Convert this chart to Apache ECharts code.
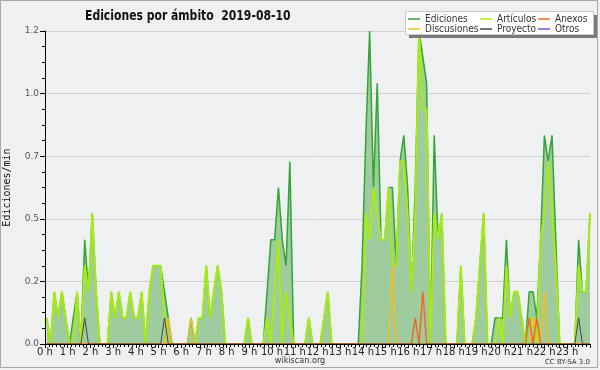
<!DOCTYPE html>
<html><head><meta charset="utf-8">
<script src="https://cdn.jsdelivr.net/npm/echarts@6/dist/echarts.min.js"></script>
<style>html,body{margin:0;padding:0;background:#f0f0f0}#c{width:600px;height:370px}</style>
</head><body><div id="c"></div>
<script>
// 10-minute slots, 6 per hour, 24 hours
const hourLabels = ['0 h','1 h','2 h','3 h','4 h','5 h','6 h','7 h','8 h','9 h','10 h','11 h',
  '12 h','13 h','14 h','15 h','16 h','17 h','18 h','19 h','20 h','21 h','22 h','23 h'];
const yTicks = [0, 0.24, 0.48, 0.72, 0.96, 1.2];

const ediciones = [
  0.1,0,0.2,0.1,0.2,0.1,   0,0.1,0.2,0,0.4,0.2,   0.5,0.2,0,0,0,0.2,   0.1,0.2,0.1,0.1,0.2,0.1,
  0.1,0.2,0,0.2,0.3,0.3,   0.3,0.2,0.1,0,0,0,     0,0,0.1,0,0.1,0.1,   0.3,0.1,0.2,0.3,0.2,0,
  0,0,0,0,0,0.1,           0,0,0,0,0.2,0.4,       0.4,0.6,0.4,0.3,0.7,0, 0,0,0,0.1,0,0,
  0,0.1,0.2,0,0,0,         0,0,0,0,0,0.3,         0.8,1.2,0.6,1.0,0.4,0.4, 0.6,0.6,0.3,0.7,0.8,0.6,
  0.2,0.6,1.2,1.1,1.0,0,   0.8,0.4,0.5,0,0,0,     0,0.3,0,0,0,0.1,     0.3,0.5,0,0,0.1,0.1,
  0.1,0.4,0.1,0.2,0.2,0.1, 0,0.2,0.2,0.1,0.4,0.8, 0.7,0.8,0.4,0,0,0,   0,0,0.4,0.2,0.2,0.5
];
const articulos = [
  0.1,0,0.2,0.1,0.2,0.1,   0,0,0.2,0,0.3,0.2,     0.5,0.2,0,0,0,0.2,   0.1,0.2,0.1,0.1,0.2,0.1,
  0.1,0.2,0,0.2,0.3,0.3,   0.3,0.1,0,0,0,0,       0,0,0,0,0.1,0.1,     0.3,0.1,0.2,0.3,0.2,0,
  0,0,0,0,0,0.1,           0,0,0,0,0.1,0,         0.2,0.4,0,0.2,0.1,0, 0,0,0,0.1,0,0,
  0,0.1,0.2,0,0,0,         0,0,0,0,0,0,           0.5,0.4,0.6,0.5,0.4,0.4, 0.6,0.3,0.3,0.7,0.7,0.5,
  0.2,0.5,1.2,0.9,0.9,0,   0.5,0.4,0.5,0,0,0,     0,0.3,0,0,0,0.1,     0.3,0.5,0,0,0,0.1,
  0,0.3,0.1,0.2,0.2,0.1,   0,0.1,0.1,0,0.4,0.5,   0.7,0.5,0.3,0,0,0,   0,0,0.3,0.2,0.2,0.5
];
const discusiones = [
  0,0,0,0,0,0, 0,0,0,0,0,0, 0,0,0,0,0,0, 0,0,0,0,0,0,
  0,0,0,0,0,0, 0,0,0.1,0,0,0, 0,0,0.1,0,0,0, 0,0,0,0,0,0,
  0,0,0,0,0,0, 0,0,0,0,0,0, 0,0,0,0,0,0, 0,0,0,0,0,0,
  0,0,0,0,0,0, 0,0,0,0,0,0, 0,0,0,0,0,0, 0,0.3,0,0,0,0,
  0,0,0,0,0,0, 0,0,0,0,0,0, 0,0,0,0,0,0, 0,0,0,0,0,0,
  0,0,0,0,0,0, 0,0,0.1,0,0,0.2, 0,0,0,0,0,0, 0,0,0,0,0,0
];
const anexos = [
  0,0,0,0,0,0, 0,0,0,0,0,0, 0,0,0,0,0,0, 0,0,0,0,0,0,
  0,0,0,0,0,0, 0,0,0,0,0,0, 0,0,0,0,0,0, 0,0,0,0,0,0,
  0,0,0,0,0,0, 0,0,0,0,0,0, 0,0,0,0,0,0, 0,0,0,0,0,0,
  0,0,0,0,0,0, 0,0,0,0,0,0, 0,0,0,0,0,0, 0,0,0,0,0,0,
  0,0.1,0,0.2,0,0, 0,0,0,0,0,0, 0,0,0,0,0,0, 0,0,0,0,0,0,
  0,0,0,0,0,0, 0,0.1,0,0.1,0,0, 0,0,0,0,0,0, 0,0,0,0,0,0
];
const proyecto = [
  0,0,0,0,0,0, 0,0,0,0,0.1,0, 0,0,0,0,0,0, 0,0,0,0,0,0,
  0,0,0,0,0,0, 0,0.1,0,0,0,0, 0,0,0,0,0,0, 0,0,0,0,0,0,
  0,0,0,0,0,0, 0,0,0,0,0,0, 0,0,0,0,0,0, 0,0,0,0,0,0,
  0,0,0,0,0,0, 0,0,0,0,0,0, 0,0,0,0,0,0, 0,0,0,0,0,0,
  0,0,0,0,0,0, 0,0,0,0,0,0, 0,0,0,0,0,0, 0,0,0,0,0,0,
  0,0,0,0,0,0, 0,0,0,0,0,0, 0,0,0,0,0,0, 0,0,0.1,0,0,0
];
const otros = [
  0,0,0,0,0,0, 0,0,0,0,0,0, 0,0,0,0,0,0, 0,0,0,0,0,0,
  0,0,0,0,0,0, 0,0,0,0,0,0, 0,0,0,0,0,0, 0,0,0,0,0,0,
  0,0,0,0,0,0, 0,0,0,0,0,0, 0,0,0,0,0,0, 0,0,0,0,0,0,
  0,0,0,0,0,0, 0,0,0,0,0,0, 0,0,0,0,0,0, 0,0,0,0,0,0,
  0,0,0,0,0,0, 0,0,0,0,0,0, 0,0,0,0,0,0, 0,0,0,0,0,0,
  0,0,0,0,0,0, 0,0,0,0,0,0, 0,0,0,0,0,0, 0,0,0,0,0,0
];
const slots = ediciones.map((_, i) => {
  const m = i * 10; return Math.floor(m / 60) + ':' + String(m % 60).padStart(2, '0');
});

const chart = echarts.init(document.getElementById('c'), null, {renderer: 'canvas'});
const lineSeries = (name, data, color, width, z) => ({
  name, type: 'line', data, xAxisIndex: 0, yAxisIndex: 1, symbol: 'none', showSymbol: false,
  lineStyle: {color, width}, itemStyle: {color}, z, silent: true
});
const legendText = {fontFamily: 'DejaVu Sans Condensed, DejaVu Sans, sans-serif', fontSize: 10, color: '#333', lineHeight: 10};
const legendBase = {orient: 'vertical', top: 14, itemWidth: 12, itemHeight: 1.5, itemGap: 0,
  icon: 'rect', padding: 0, textStyle: legendText, selectedMode: false, z: 6};
const plotTop = 31, plotBottom = 26;

chart.setOption({
  animation: false,
  backgroundColor: '#f0f0f0',
  grid: [
    {left: 45, right: 10, top: plotTop, bottom: plotBottom, show: true, backgroundColor: '#eef0f2',
      borderWidth: 0, outerBoundsMode: 'none', containLabel: false},
    {left: 46.7, right: 10, top: plotTop, bottom: plotBottom, show: false,
      outerBoundsMode: 'none', containLabel: false}
  ],
  legend: [
    Object.assign({}, legendBase, {left: 408, data: ['Ediciones', 'Discusiones']}),
    Object.assign({}, legendBase, {left: 480, data: ['Artículos', 'Proyecto']}),
    Object.assign({}, legendBase, {left: 538, data: ['Anexos', 'Otros']})
  ],
  xAxis: [
    {type: 'category', gridIndex: 1, data: slots, boundaryGap: false, show: false},
    {type: 'value', gridIndex: 0, min: 0, max: 24, interval: 1, position: 'bottom', z: 10,
      axisLine: {show: true, lineStyle: {color: '#000', width: 1}},
      axisTick: {show: true, length: 4, lineStyle: {color: '#000'}},
      minorTick: {show: true, splitNumber: 6, length: 3, lineStyle: {color: '#000'}},
      splitLine: {show: false},
      axisLabel: {formatter: v => hourLabels[v] || '', fontFamily: 'DejaVu Sans, sans-serif',
        fontSize: 10, color: '#222', margin: 3, showMinLabel: true, showMaxLabel: true, hideOverlap: false}}
  ],
  yAxis: [
    {type: 'value', gridIndex: 0, min: 0, max: 1.2, interval: 0.24, z: 10,
      name: 'Ediciones/min', nameLocation: 'middle', nameRotate: 90, nameGap: 33,
      nameTextStyle: {fontFamily: 'DejaVu Sans Mono, monospace', fontSize: 10, color: '#111'},
      axisLine: {show: true, lineStyle: {color: '#000', width: 1}},
      axisTick: {show: true, length: 5, lineStyle: {color: '#000'}},
      minorTick: {show: true, splitNumber: 4, length: 3, lineStyle: {color: '#000'}},
      axisLabel: {formatter: v => {
          const k = yTicks.findIndex(t => Math.abs(t - v) < 1e-6);
          return (k >= 0 ? yTicks[k] : v).toFixed(1);
        }, fontFamily: 'DejaVu Sans, sans-serif', fontSize: 9, color: '#555', margin: 6},
      splitLine: {show: false}},
    {type: 'value', gridIndex: 1, min: 0, max: 1.2, interval: 0.24, show: false,
      splitLine: {show: false}},
    {type: 'value', gridIndex: 0, min: 0, max: 1.2, interval: 0.24, z: 0,
      axisLine: {show: false}, axisTick: {show: false}, axisLabel: {show: false},
      splitLine: {show: true, lineStyle: {color: '#cfcfcf', width: 1}}}
  ],
  series: [
    Object.assign(lineSeries('Ediciones', ediciones, '#34a434', 1.5, 2),
      {areaStyle: {color: '#9fcc9f', opacity: 1}}),
    lineSeries('Artículos', articulos, '#a8ea16', 2, 3),
    lineSeries('Discusiones', discusiones, '#f2c01e', 1.5, 4),
    lineSeries('Anexos', anexos, '#ee6a22', 1.5, 5),
    lineSeries('Proyecto', proyecto, '#454545', 1, 6),
    lineSeries('Otros', otros, '#8a44e8', 1, 1)
  ],
  graphic: [
    {type: 'rect', z: 0, silent: true, shape: {x: 0.5, y: 0.5, width: 597, height: 367},
      style: {fill: null, stroke: '#a8a8a8', lineWidth: 1}},
    {type: 'text', z: 5, silent: true, x: 85, y: 16, scaleX: 0.86,
      style: {text: 'Ediciones por ámbito  2019-08-10', fill: '#111',
        font: 'bold 14px "DejaVu Sans Condensed", "DejaVu Sans"', align: 'left', verticalAlign: 'middle'}},
    {type: 'rect', z: 4, silent: true, shape: {x: 409, y: 15, width: 188, height: 23},
      style: {fill: '#7a7a7a'}},
    {type: 'rect', z: 5, silent: true, shape: {x: 405.5, y: 11.5, width: 188, height: 23},
      style: {fill: '#ffffff', stroke: '#c8c8c8', lineWidth: 1}},
    {type: 'text', z: 5, silent: true, x: 300, y: 361,
      style: {text: 'wikiscan.org', fill: '#333', font: '9px "DejaVu Sans Condensed", "DejaVu Sans"', align: 'center', verticalAlign: 'middle'}},
    {type: 'text', z: 5, silent: true, x: 590, y: 362,
      style: {text: 'CC BY-SA 3.0', fill: '#333', font: '7px DejaVu Sans', align: 'right', verticalAlign: 'middle'}}
  ]
});
</script></body></html>
